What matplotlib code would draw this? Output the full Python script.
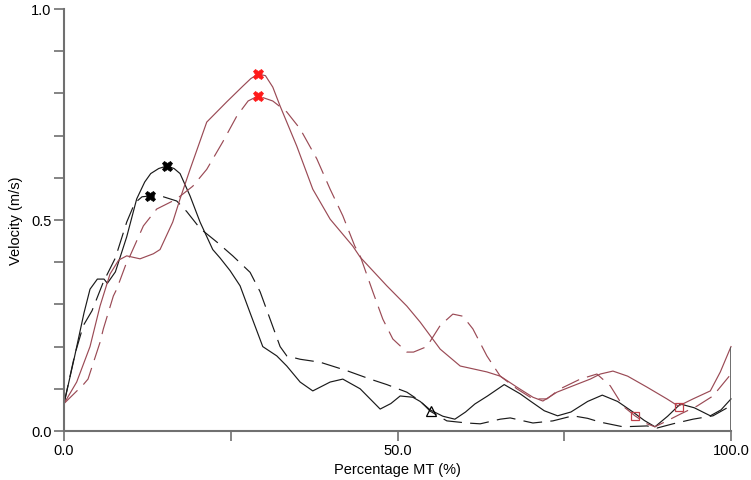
import matplotlib
matplotlib.use("Agg")
import matplotlib.pyplot as plt
from matplotlib.ticker import MultipleLocator

plt.rcParams['font.family'] = ['Liberation Sans', 'DejaVu Sans']

# ---- data ----
bs_x = [0, 1.5, 3.0, 3.9, 5.0, 6.0, 6.5, 7.7, 9.4, 10.9, 12.1, 13.0, 14.2, 15.4, 16.5, 17.4, 18.9, 20.4,
        22.3, 23.4, 24.9, 26.4, 27.9, 29.8, 31.9, 33.4, 35.4, 37.3, 39.9, 41.8, 44.4, 47.4, 49.0, 50.4,
        52.3, 53.4, 54.9, 56.8, 58.6, 60.2, 61.6, 63.5, 66.0, 68.4, 70.0, 72.0, 74.0, 76.0, 78.5, 80.7, 83.0,
        85.3, 87.0, 88.6, 90.5, 92.4, 94.5, 96.9, 98.5, 100]
bs_y = [0.065, 0.17, 0.28, 0.336, 0.36, 0.36, 0.35, 0.377, 0.46, 0.55, 0.59, 0.61, 0.622, 0.628, 0.622, 0.61,
        0.557, 0.495, 0.43, 0.41, 0.38, 0.344, 0.28, 0.2, 0.178, 0.154, 0.116, 0.095, 0.116, 0.123, 0.10,
        0.052, 0.065, 0.083, 0.08, 0.07, 0.05, 0.035, 0.028, 0.045, 0.064, 0.083, 0.11, 0.088, 0.07,
        0.048, 0.036, 0.045, 0.07, 0.085, 0.07, 0.045, 0.025, 0.01, 0.035, 0.064, 0.055, 0.036, 0.05, 0.076]

bd_x = [0, 1.6, 2.9, 4.2, 5.9, 7.7, 9.4, 10.6, 11.7, 12.9, 14.9, 16.9, 18.4, 20.4, 22.9, 25.3, 27.9, 29.4,
        30.9, 32.4, 33.4, 35.4, 38.4, 42.4, 45.9, 48.4, 51.4, 53.4, 54.9, 57.4, 60.4, 62.4, 65.4, 66.9, 70.3,
        73.3, 76.3, 78.5, 80.4, 83.8, 87.4, 88.9, 91.3, 94.3, 97.3, 100]
bd_y = [0.065, 0.18, 0.25, 0.285, 0.353, 0.41, 0.495, 0.54, 0.555, 0.557, 0.555, 0.545, 0.52, 0.48, 0.448,
        0.415, 0.376, 0.33, 0.265, 0.2, 0.178, 0.17, 0.163, 0.143, 0.123, 0.11, 0.092, 0.071, 0.047, 0.024,
        0.019, 0.017, 0.028, 0.031, 0.019, 0.024, 0.036, 0.030, 0.021, 0.01, 0.012, 0.007, 0.017, 0.028,
        0.036, 0.06]

rs_x = [0, 1.9, 3.9, 5.4, 6.9, 8.2, 9.4, 11.4, 13.4, 14.4, 16.3, 17.4, 18.9, 21.4, 24.4, 26.8, 28.0, 29.1,
        30.2, 31.3, 32.4, 34.9, 37.3, 39.9, 43.3, 44.4, 48.4, 51.4, 53.4, 56.4, 59.4, 63.4, 65.4, 67.9, 70.3,
        71.8, 73.9, 76.3, 78.9, 80.4, 82.3, 84.5, 87.4, 90.4, 92.1, 94.3, 96.9, 98.4, 100]
rs_y = [0.065, 0.116, 0.2, 0.296, 0.372, 0.405, 0.415, 0.408, 0.42, 0.43, 0.495, 0.55, 0.62, 0.732, 0.78,
        0.817, 0.835, 0.846, 0.842, 0.815, 0.77, 0.675, 0.573, 0.502, 0.438, 0.412, 0.344, 0.296, 0.258,
        0.194, 0.154, 0.14, 0.13, 0.104, 0.08, 0.071, 0.092, 0.107, 0.123, 0.135, 0.142, 0.13, 0.104, 0.076,
        0.059, 0.076, 0.095, 0.14, 0.2]

rd_x = [0, 2.9, 3.6, 5.4, 5.9, 7.4, 7.9, 9.4, 9.9, 11.9, 13.9, 16.3, 16.9, 19.3, 21.4, 23.8, 25.9, 27.6, 29.1,
        31.3, 33.4, 35.4, 37.9, 39.9, 41.8, 43.6, 44.4, 46.3, 47.8, 49.3, 51.4, 52.4, 54.4, 56.4, 58.3, 59.8,
        61.3, 63.4, 65.4, 67.9, 70.3, 72.4, 74.4, 77.4, 79.9, 81.9, 83.8, 85.6, 87.4, 88.6, 90.4, 92.4, 94.9,
        97.3, 100]
rd_y = [0.065, 0.11, 0.123, 0.21, 0.242, 0.32, 0.336, 0.40, 0.415, 0.486, 0.526, 0.545, 0.55, 0.58, 0.62,
        0.685, 0.746, 0.782, 0.794, 0.782, 0.756, 0.716, 0.645, 0.573, 0.51, 0.438, 0.415, 0.33, 0.265,
        0.218, 0.187, 0.187, 0.2, 0.25, 0.277, 0.272, 0.242, 0.178, 0.13, 0.1, 0.076, 0.076, 0.1, 0.123,
        0.135, 0.107, 0.059, 0.036, 0.017, 0.01, 0.024, 0.04, 0.059, 0.083, 0.135]

peak_black_x = [15.4, 12.9]
peak_black_y = [0.628, 0.557]
peak_red_x = [29.1, 29.1]
peak_red_y = [0.846, 0.794]
tri_x = [55.0]
tri_y = [0.047]
sq_x = [85.6, 92.2]
sq_y = [0.036, 0.057]

xticks = [0, 50, 100]
xticklabels = ["0.0", "50.0", "100.0"]
yticks = [0, 0.5, 1.0]
yticklabels = ["0.0", "0.5", "1.0"]

# ---- figure ----
fig = plt.figure(figsize=(7.51, 4.81), dpi=100)
ax = fig.add_axes([64/751, 49/481, 667/751, 422/481])

black = '#1a1a1a'
red = '#9a4a55'
dash = (0, (16, 7))

ax.plot(bs_x, bs_y, color=black, lw=0.85, clip_on=False)
ax.plot(bd_x, bd_y, color=black, lw=0.85, ls=dash, clip_on=False)
ax.plot(rs_x, rs_y, color=red, lw=0.85, clip_on=False)
ax.plot(rd_x, rd_y, color=red, lw=0.85, ls=dash, clip_on=False)
ax.vlines(xticks[-1], 0, rs_y[-1], color='#555555', lw=1.2)

ax.plot(peak_black_x, peak_black_y, ls='none', marker='X', ms=7.5, color='black', mec='black', mew=0.5)
ax.plot(peak_red_x, peak_red_y, ls='none', marker='X', ms=7.5, color='#ff1a1a', mec='#ff1a1a', mew=0.5)
ax.plot(tri_x, tri_y, ls='none', marker='^', ms=7, mfc='none', mec='black', mew=0.9)
ax.plot(sq_x, sq_y, ls='none', marker='s', ms=6, mfc='none', mec='#c0404a', mew=0.9)

ax.set_xlim(0, 100)
ax.set_ylim(0, 1.0)
ax.set_xticks(xticks)
ax.set_xticklabels(xticklabels)
ax.set_yticks(yticks)
ax.set_yticklabels(yticklabels)
ax.xaxis.set_minor_locator(MultipleLocator(25))
ax.yaxis.set_minor_locator(MultipleLocator(0.1))

for s in ['top', 'right']:
    ax.spines[s].set_visible(False)
for s in ['left', 'bottom']:
    ax.spines[s].set_color('#707070')
    ax.spines[s].set_linewidth(1.5)

ax.tick_params(which='both', direction='out', color='#707070', width=1.2, length=7,
               labelsize=10.5, labelcolor='black', pad=2)

ax.set_xlabel("Percentage MT (%)", fontsize=10.5, labelpad=3)
ax.set_ylabel("Velocity (m/s)", fontsize=10.5, labelpad=6)

fig.savefig("out.png", dpi=100)
